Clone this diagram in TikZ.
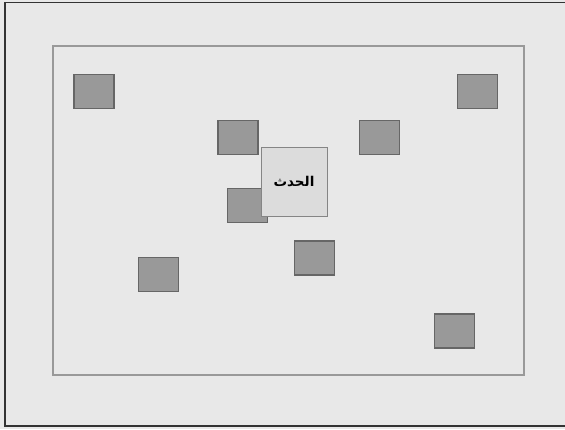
\documentclass[tikz,border=0pt]{standalone}
\usepackage{fontspec}
\newfontfamily\arabicfont[Script=Arabic]{DejaVu Sans}
\TeXXeTstate=1
\usetikzlibrary{positioning}
\definecolor{bggray}{HTML}{E8E8E8}
\definecolor{boxgray}{HTML}{999999}
\definecolor{edgegray}{HTML}{666666}
\definecolor{eventgray}{HTML}{DCDCDC}
\tikzset{
  itembox/.style={draw=edgegray,fill=boxgray,line width=1.2pt,minimum width=40pt,minimum height=34pt,inner sep=0pt},
  eventbox/.style={draw=edgegray!80,fill=eventgray,line width=1pt,minimum width=66pt,minimum height=69pt,inner sep=0pt,font=\arabicfont\bfseries\fontsize{13.5}{16}\selectfont}
}

\begin{document}
\begin{tikzpicture}[x=1pt,y=-1pt]
  \useasboundingbox (0,0) rectangle (565,429);
  \fill[bggray] (0,0) rectangle (565,429);
  % outer frame, right side cut by the edge
  \draw[line width=1.6pt,black!80] (566,2.5) -- (5,2.5) -- (5,426) -- (566,426);
  % field
  \draw[line width=1.3pt,black!40] (53,46) rectangle (524,375);
  \node[itembox] (a1) at (94,91.5) {};
  \node[itembox] (a2) at (477.5,91.5) {};
  \node[itembox] (a3) at (238,137.5) {};
  \node[itembox] (a4) at (379.5,137.5) {};
  \node[itembox] (a5) at (247.5,205.5) {};
  \node[itembox] (a6) at (314.5,258) {};
  \node[itembox] (a7) at (158.5,274.5) {};
  \node[itembox] (a8) at (454.5,331) {};
  \node[eventbox] (event) at (294,181.5) {\beginR الحدث\endR};
\end{tikzpicture}
\end{document}
